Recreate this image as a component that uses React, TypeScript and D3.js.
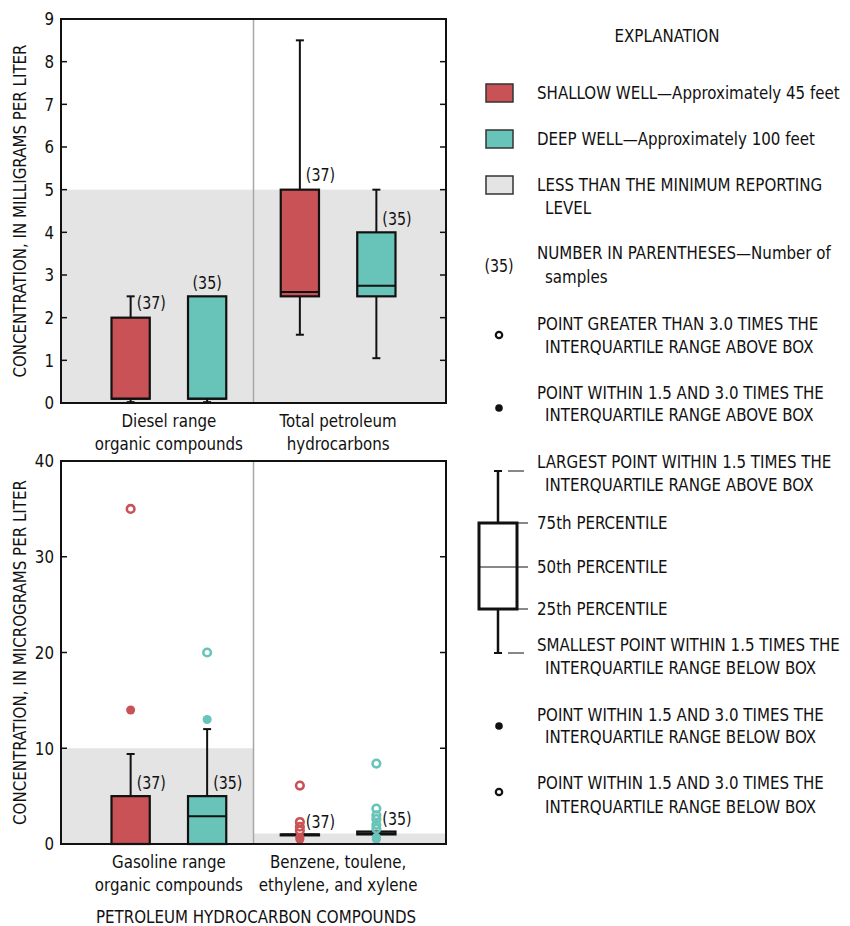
import { useEffect, useRef } from 'react';
import * as d3 from 'd3';

const FONT = "'DejaVu Sans Condensed', 'DejaVu Sans', sans-serif";
const SX = 0.93; // horizontal squeeze to mimic a condensed face
const RED = '#c95257';
const TEAL = '#68c4b8';
const BAND = '#e4e4e4';

// wells (series)
const wells = ['shallow', 'deep'];
const wellColors = [RED, TEAL];
const sampleCounts = [37, 35];

// top panel (milligrams per liter)
const topCategories = [['Diesel range', 'organic compounds'], ['Total petroleum', 'hydrocarbons']];
const topTicks = [0, 1, 2, 3, 4, 5, 6, 7, 8, 9];
const topReportingLevel = [5, 5];
const topShallowStats = [
  { low: 0.02, q1: 0.1, median: 0.1, q3: 2.0, high: 2.5 },
  { low: 1.6, q1: 2.5, median: 2.6, q3: 5.0, high: 8.5 },
];
const topDeepStats = [
  { low: 0.02, q1: 0.1, median: 0.1, q3: 2.5, high: 2.5 },
  { low: 1.05, q1: 2.5, median: 2.75, q3: 4.0, high: 5.0 },
];
const topShallowLabelAt = [2.35, 5.35];
const topDeepLabelAt = [2.8, 4.3];

// bottom panel (micrograms per liter)
const bottomCategories = [['Gasoline range', 'organic compounds'], ['Benzene, toulene,', 'ethylene, and xylene']];
const bottomTicks = [0, 10, 20, 30, 40];
const bottomReportingLevel = [10, 1.1];
const bottomShallowStats = [
  { low: 0, q1: 0, median: 0, q3: 5.0, high: 9.4 },
  { low: 0.9, q1: 0.9, median: 1.0, q3: 1.0, high: 1.0 },
];
const bottomDeepStats = [
  { low: 0, q1: 0, median: 2.9, q3: 5.0, high: 12 },
  { low: 1.0, q1: 1.0, median: 1.1, q3: 1.3, high: 1.3 },
];
const bottomShallowExtreme = [[35], [6.1, 2.3, 1.8, 1.4]];
const bottomShallowMild = [[14], [0.7, 0.5]];
const bottomDeepExtreme = [[20], [8.4, 3.7, 3.0, 2.6, 2.0, 1.6]];
const bottomDeepMild = [[13], [0.7, 0.5]];
const bottomShallowLabelAt = [6.4, 2.3];
const bottomDeepLabelAt = [6.4, 2.6];

function addText(parent: any, x: number, y: number, s: string | number, opts: any = {}) {
  const { anchor = 'start', size = 18, rotate = 0 } = opts;
  return parent.append('text')
    .attr('transform', `translate(${x},${y})${rotate ? ` rotate(${rotate})` : ''} scale(${SX},1)`)
    .attr('dy', '0.35em')
    .attr('text-anchor', anchor)
    .style('font-family', FONT)
    .style('font-size', `${size}px`)
    .attr('fill', '#111')
    .text(s);
}

export default function App() {
  const svgRef = useRef<SVGSVGElement | null>(null);

  useEffect(() => {
    if (!svgRef.current) return;
    const svg = d3.select(svgRef.current);
    svg.selectAll('*').remove();

    const left = 61;
    const right = 446;
    const mid = (left + right) / 2;

    const xCat = d3.scalePoint<number>().domain([0, 1]).range([left, right]).padding(0.6375);
    const xWell = d3.scaleBand<string>().domain(wells).range([-76.5, 76.5]).paddingInner(0.5).paddingOuter(0.25);
    const bw = xWell.bandwidth();

    function drawPanel(opts: any) {
      const { y, ticks, categories, reporting, stats, extremes, milds, labelAt, labelCentered, title } = opts;
      const [y0, y1] = y.range();
      const g = svg.append('g');

      // reporting level bands
      categories.forEach((_: any, i: number) => {
        const x0 = i === 0 ? left : mid;
        const x1 = i === 0 ? mid : right;
        g.append('rect')
          .attr('x', x0).attr('width', x1 - x0)
          .attr('y', y(reporting[i])).attr('height', y0 - y(reporting[i]))
          .attr('fill', BAND);
      });

      g.append('line')
        .attr('x1', mid).attr('x2', mid)
        .attr('y1', y1).attr('y2', y0)
        .attr('stroke', '#a8a8a8').attr('stroke-width', 1.5);

      // boxes
      wells.forEach((w, wi) => {
        stats[wi].forEach((s: any, ci: number) => {
          const cx = (xCat(ci) as number) + (xWell(w) as number) + bw / 2;
          const bg = g.append('g');
          [[s.q3, s.high], [s.q1, s.low]].forEach(([a, b]) => {
            if (a === b) return;
            bg.append('line').attr('x1', cx).attr('x2', cx).attr('y1', y(a)).attr('y2', y(b))
              .attr('stroke', '#111').attr('stroke-width', 2);
            bg.append('line').attr('x1', cx - 4).attr('x2', cx + 4).attr('y1', y(b)).attr('y2', y(b))
              .attr('stroke', '#111').attr('stroke-width', 2);
          });
          bg.append('rect')
            .attr('x', cx - bw / 2).attr('width', bw)
            .attr('y', y(s.q3)).attr('height', Math.max(0, y(s.q1) - y(s.q3)))
            .attr('fill', wellColors[wi]).attr('stroke', '#111').attr('stroke-width', 2.2);
          bg.append('line')
            .attr('x1', cx - bw / 2).attr('x2', cx + bw / 2)
            .attr('y1', y(s.median)).attr('y2', y(s.median))
            .attr('stroke', '#111').attr('stroke-width', 2);

          // outliers
          (extremes ? extremes[wi][ci] : []).forEach((v: number) => {
            bg.append('circle').attr('cx', cx).attr('cy', y(v)).attr('r', 3.8)
              .attr('fill', 'none').attr('stroke', wellColors[wi]).attr('stroke-width', 2.6);
          });
          (milds ? milds[wi][ci] : []).forEach((v: number) => {
            bg.append('circle').attr('cx', cx).attr('cy', y(v)).attr('r', 4.5)
              .attr('fill', wellColors[wi]);
          });

          const centered = labelCentered && labelCentered[wi][ci];
          addText(g, centered ? cx : cx + 6, y(labelAt[wi][ci]), `(${sampleCounts[wi]})`,
            { anchor: centered ? 'middle' : 'start', size: 17 });
        });
      });

      // ticks (inward on both sides)
      ticks.forEach((t: number) => {
        g.append('line').attr('x1', left).attr('x2', left + 6).attr('y1', y(t)).attr('y2', y(t))
          .attr('stroke', '#111').attr('stroke-width', 1.5);
        g.append('line').attr('x1', right - 6).attr('x2', right).attr('y1', y(t)).attr('y2', y(t))
          .attr('stroke', '#111').attr('stroke-width', 1.5);
        addText(g, left - 7, y(t), t, { anchor: 'end' });
      });

      g.append('rect').attr('x', left).attr('y', y1).attr('width', right - left).attr('height', y0 - y1)
        .attr('fill', 'none').attr('stroke', '#111').attr('stroke-width', 2);

      categories.forEach((lines: string[], ci: number) => {
        lines.forEach((ln, li) => addText(g, xCat(ci) as number, y0 + 18 + li * 23, ln, { anchor: 'middle' }));
      });

      addText(g, 20, (y0 + y1) / 2, title, { anchor: 'middle', rotate: -90 });
    }

    drawPanel({
      y: d3.scaleLinear().domain([0, 9]).range([403, 19]),
      ticks: topTicks,
      categories: topCategories,
      reporting: topReportingLevel,
      stats: [topShallowStats, topDeepStats],
      labelAt: [topShallowLabelAt, topDeepLabelAt],
      labelCentered: [[false, false], [true, false]],
      title: 'CONCENTRATION, IN MILLIGRAMS PER LITER',
    });

    drawPanel({
      y: d3.scaleLinear().domain([0, 40]).range([844, 461]),
      ticks: bottomTicks,
      categories: bottomCategories,
      reporting: bottomReportingLevel,
      stats: [bottomShallowStats, bottomDeepStats],
      extremes: [bottomShallowExtreme, bottomDeepExtreme],
      milds: [bottomShallowMild, bottomDeepMild],
      labelAt: [bottomShallowLabelAt, bottomDeepLabelAt],
      title: 'CONCENTRATION, IN MICROGRAMS PER LITER',
    });

    addText(svg, 256, 917, 'PETROLEUM HYDROCARBON COMPOUNDS', { anchor: 'middle' });

    // Legend
    const lg = svg.append('g');
    const txt = (x: number, y: number, s: string, anchor = 'start') => addText(lg, x, y, s, { anchor });

    txt(667, 36, 'EXPLANATION', 'middle');

    const swatches = [
      { y: 93, fill: RED, lines: ['SHALLOW WELL—Approximately 45 feet'] },
      { y: 139, fill: TEAL, lines: ['DEEP WELL—Approximately 100 feet'] },
      { y: 185, fill: BAND, lines: ['LESS THAN THE MINIMUM REPORTING', 'LEVEL'] },
    ];
    swatches.forEach(s => {
      lg.append('rect').attr('x', 486).attr('y', s.y - 9).attr('width', 27).attr('height', 18)
        .attr('fill', s.fill).attr('stroke', '#333').attr('stroke-width', 1.5);
      s.lines.forEach((l, i) => txt(i ? 545 : 537, s.y + i * 23, l));
    });

    addText(lg, 499, 266, '(35)', { anchor: 'middle', size: 17 });
    txt(537, 253, 'NUMBER IN PARENTHESES—Number of');
    txt(545, 277, 'samples');

    lg.append('circle').attr('cx', 499).attr('cy', 335).attr('r', 3.2).attr('fill', 'none')
      .attr('stroke', '#111').attr('stroke-width', 2.2);
    txt(537, 324, 'POINT GREATER THAN 3.0 TIMES THE');
    txt(545, 347, 'INTERQUARTILE RANGE ABOVE BOX');

    lg.append('circle').attr('cx', 499).attr('cy', 408).attr('r', 3.8).attr('fill', '#111');
    txt(537, 393, 'POINT WITHIN 1.5 AND 3.0 TIMES THE');
    txt(545, 415, 'INTERQUARTILE RANGE ABOVE BOX');

    // explanatory boxplot
    const bx = 498;
    const b = { high: 471, q3: 523, med: 567, q1: 609, low: 653 };
    lg.append('line').attr('x1', bx).attr('x2', bx).attr('y1', b.high).attr('y2', b.q3).attr('stroke', '#111').attr('stroke-width', 2.5);
    lg.append('line').attr('x1', bx).attr('x2', bx).attr('y1', b.q1).attr('y2', b.low).attr('stroke', '#111').attr('stroke-width', 2.5);
    [b.high, b.low].forEach(v => {
      lg.append('line').attr('x1', bx - 4).attr('x2', bx + 4).attr('y1', v).attr('y2', v).attr('stroke', '#111').attr('stroke-width', 2);
      lg.append('line').attr('x1', 508).attr('x2', 524).attr('y1', v).attr('y2', v).attr('stroke', '#111').attr('stroke-width', 1);
    });
    lg.append('rect').attr('x', 479).attr('y', b.q3).attr('width', 38).attr('height', b.q1 - b.q3)
      .attr('fill', 'none').attr('stroke', '#111').attr('stroke-width', 3);
    lg.append('line').attr('x1', 479).attr('x2', 517).attr('y1', b.med).attr('y2', b.med).attr('stroke', '#111').attr('stroke-width', 1);
    [b.q3, b.med, b.q1].forEach(v => {
      lg.append('line').attr('x1', 517).attr('x2', 528).attr('y1', v).attr('y2', v).attr('stroke', '#111').attr('stroke-width', 1);
    });
    txt(537, 462, 'LARGEST POINT WITHIN 1.5 TIMES THE');
    txt(545, 485, 'INTERQUARTILE RANGE ABOVE BOX');
    txt(537, 523, '75th PERCENTILE');
    txt(537, 567, '50th PERCENTILE');
    txt(537, 609, '25th PERCENTILE');
    txt(537, 645, 'SMALLEST POINT WITHIN 1.5 TIMES THE');
    txt(545, 668, 'INTERQUARTILE RANGE BELOW BOX');

    lg.append('circle').attr('cx', 499).attr('cy', 726).attr('r', 3.8).attr('fill', '#111');
    txt(537, 715, 'POINT WITHIN 1.5 AND 3.0 TIMES THE');
    txt(545, 737, 'INTERQUARTILE RANGE BELOW BOX');

    lg.append('circle').attr('cx', 499).attr('cy', 792).attr('r', 3.2).attr('fill', 'none')
      .attr('stroke', '#111').attr('stroke-width', 2.2);
    txt(537, 783, 'POINT WITHIN 1.5 AND 3.0 TIMES THE');
    txt(545, 807, 'INTERQUARTILE RANGE BELOW BOX');
  }, []);

  return (
    <svg
      ref={svgRef}
      width={850}
      height={926}
      style={{ position: 'absolute', left: 0, top: 0, background: '#fff' }}
    />
  );
}
